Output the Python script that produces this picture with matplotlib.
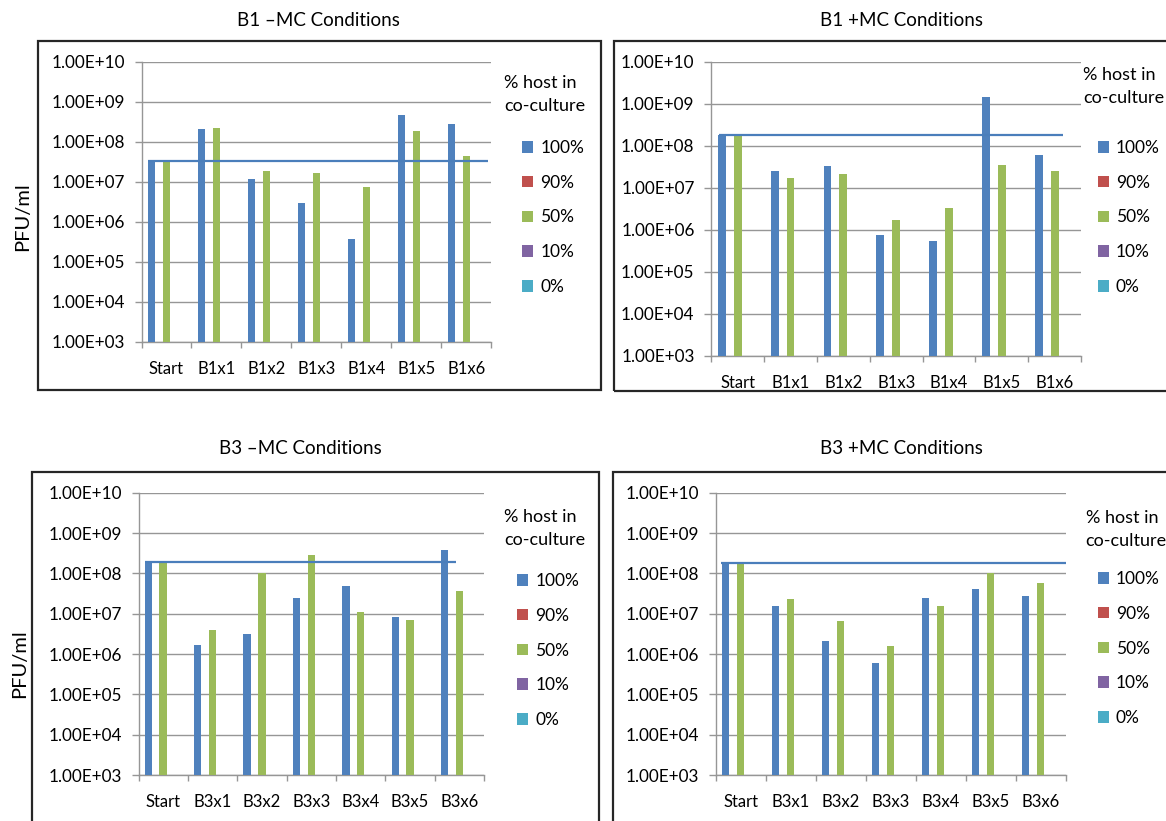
import numpy as np
import matplotlib
matplotlib.use('Agg')
import matplotlib.pyplot as plt
from matplotlib.patches import Rectangle
from matplotlib.ticker import FixedLocator, FuncFormatter, NullLocator

# ---- data (PFU/ml) ----
series_labels = ['100%', '90%', '50%', '10%', '0%']
series_colors = ['#4F81BD', '#C0504D', '#9BBB59', '#8064A2', '#4BACC6']

cats_b1 = ['Start', 'B1x1', 'B1x2', 'B1x3', 'B1x4', 'B1x5', 'B1x6']
cats_b3 = ['Start', 'B3x1', 'B3x2', 'B3x3', 'B3x4', 'B3x5', 'B3x6']

b1_minus_100 = [3.3e7, 2.1e8, 1.2e7, 3.0e6, 3.8e5, 4.8e8, 2.9e8]
b1_minus_50 = [3.2e7, 2.3e8, 1.9e7, 1.7e7, 7.5e6, 1.9e8, 4.4e7]
b1_plus_100 = [1.85e8, 2.6e7, 3.3e7, 7.4e5, 5.4e5, 1.44e9, 6.2e7]
b1_plus_50 = [1.8e8, 1.7e7, 2.2e7, 1.75e6, 3.3e6, 3.6e7, 2.6e7]
b3_minus_100 = [1.9e8, 1.67e6, 3.1e6, 2.5e7, 4.9e7, 8.1e6, 3.9e8]
b3_minus_50 = [1.9e8, 3.9e6, 1.04e8, 2.85e8, 1.12e7, 7.0e6, 3.6e7]
b3_plus_100 = [1.84e8, 1.55e7, 2.1e6, 6.0e5, 2.5e7, 4.2e7, 2.7e7]
b3_plus_50 = [1.84e8, 2.36e7, 6.7e6, 1.6e6, 1.55e7, 1.04e8, 5.9e7]
# 90%, 10% and 0% series have no values
empty = [np.nan] * 7

W, H = 1166, 821
plt.rcParams['font.family'] = ['Lato', 'DejaVu Sans']
fig = plt.figure(figsize=(W / 100, H / 100), dpi=100)

GRID = '#969696'
TXT = '#000000'


def fx(x):
	return x / W


def fy(y):
	return 1 - y / H


def sci(v, pos):
	e = int(round(np.log10(v)))
	return '1.00E+%02d' % e


def add_panel(plot_px, box_px, title, title_px, cats, blue, green, line_span,
			  leg_title_px, leg_px, ylabel_px=None):
	x0, y0, x1, y1 = plot_px
	ax = fig.add_axes([fx(x0), fy(y1), (x1 - x0) / W, (y1 - y0) / H])

	# outer chart frame
	bx0, by0, bx1, by1 = box_px
	fig.patches.append(Rectangle((fx(bx0), fy(by1)), (bx1 - bx0) / W, (by1 - by0) / H,
								 transform=fig.transFigure, fill=False,
								 edgecolor='#262626', linewidth=1.6, zorder=0))

	series = [blue, empty, green, empty, empty]
	xs = np.arange(len(cats))
	w = 0.15
	handles = []
	for k, (vals, col, lab) in enumerate(zip(series, series_colors, series_labels)):
		b = ax.bar(xs + (k - 2) * w, vals, width=w, color=col, label=lab,
				   linewidth=0, zorder=3)
		handles.append(b)

	# reference line at the starting titre
	ax.hlines(blue[0], line_span[0], line_span[1], color='#4A7EBB', linewidth=1.6, zorder=4)

	ax.set_yscale('log')
	ax.set_ylim(1e3, 1e10)
	ax.set_xlim(-0.5, len(cats) - 0.5)
	ax.yaxis.set_major_locator(FixedLocator([10.0 ** e for e in range(3, 11)]))
	ax.yaxis.set_minor_locator(NullLocator())
	ax.yaxis.set_major_formatter(FuncFormatter(sci))
	ax.grid(axis='y', color=GRID, linewidth=1.0, zorder=0)
	ax.set_axisbelow(True)

	ax.set_xticks(xs)
	ax.set_xticklabels(cats)
	ax.xaxis.set_minor_locator(FixedLocator(np.arange(-0.5, len(cats), 1.0)))
	ax.tick_params(axis='x', which='major', length=0, pad=13.5, labelsize=12, labelcolor=TXT)
	ax.tick_params(axis='x', which='minor', length=4, width=1, color=GRID, direction='out')
	ax.tick_params(axis='y', which='major', length=5, width=1, color=GRID, pad=7,
				   labelsize=12.3, labelcolor=TXT)

	for s in ['top', 'right']:
		ax.spines[s].set_visible(False)
	for s in ['left', 'bottom']:
		ax.spines[s].set_color(GRID)
		ax.spines[s].set_linewidth(1.0)

	fig.text(fx(title_px[0]), fy(title_px[1]), title, ha='center', va='center',
			 fontsize=13.5, color=TXT)

	# legend title drawn as two lines, entries from the bar handles
	lx, ly = leg_title_px
	fig.text(fx(lx), fy(ly), '% host in', ha='left', va='center', fontsize=13, color=TXT)
	fig.text(fx(lx), fy(ly + 23), 'co-culture', ha='left', va='center', fontsize=13, color=TXT)
	ax.legend(handles, series_labels, loc='upper left',
			  bbox_to_anchor=(fx(leg_px[0]), fy(leg_px[1])), bbox_transform=fig.transFigure,
			  frameon=False, borderaxespad=0, borderpad=0, fontsize=12.5,
			  handlelength=0.65, handleheight=0.65, handletextpad=0.4, labelspacing=1.08)

	if ylabel_px is not None:
		fig.text(fx(ylabel_px[0]), fy(ylabel_px[1]), 'PFU/ml', rotation=90,
				 ha='center', va='center', fontsize=14.5, color=TXT)
	return ax


add_panel((141.5, 62, 491.4, 342), (38.3, 41, 601, 390), 'B1 \u2013MC Conditions', (318, 21),
		  cats_b1, b1_minus_100, b1_minus_50, (-0.375, 6.44),
		  (504, 83), (522, 140), ylabel_px=(23, 217))
add_panel((711.2, 62, 1081.2, 356), (614.4, 41, 1175, 391), 'B1 +MC Conditions', (901, 20),
		  cats_b1, b1_plus_100, b1_plus_50, (-0.35, 6.16),
		  (1083, 75), (1097.5, 140))
add_panel((138.5, 492.7, 484.1, 775), (31.8, 472.3, 599, 830), 'B3 \u2013MC Conditions', (300, 449),
		  cats_b3, b3_minus_100, b3_minus_50, (-0.375, 5.94),
		  (504, 517), (517, 573), ylabel_px=(20, 664))
add_panel((715.5, 492.7, 1065.7, 775), (613, 472.3, 1175, 830), 'B3 +MC Conditions', (901.5, 449),
		  cats_b3, b3_plus_100, b3_plus_50, (-0.39, 6.52),
		  (1085.6, 518), (1097.5, 571))

fig.savefig('out.png', dpi=100)
